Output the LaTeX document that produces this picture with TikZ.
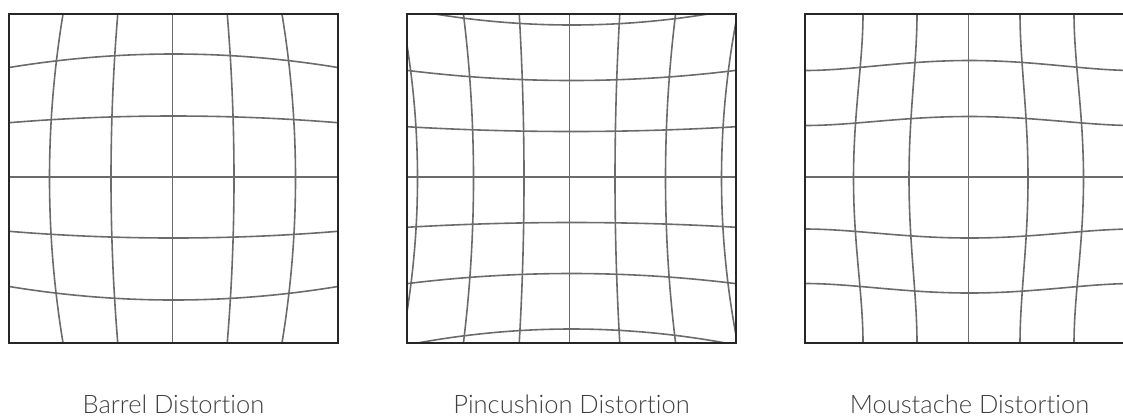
\documentclass[tikz,border=0pt]{standalone}
\usepackage{fontspec}
\newfontfamily\labfont{Lato Light}[Ligatures={NoCommon,NoRare,NoDiscretionary}]
\begin{document}
\begin{tikzpicture}[x=1pt,y=-1pt,
  declare function={sq(\u)=\u*\u; mq(\u)=2*\u*\u-\u*\u*\u*\u;},
  frame/.style={draw=black!85, line width=1.8pt},
  gridline/.style={draw=black!58, line width=1.6pt, line join=round},
  capt/.style={font=\labfont\fontsize{25.5}{30}\selectfont, text=black!75, anchor=base, inner sep=0pt}]
\useasboundingbox (0,0) rectangle (1123,416);
\begin{scope}
\clip (0,0) rectangle (1123,416);
% Barrel
\begin{scope}
\clip (9,14) rectangle (338,343);
\foreach \a in {-123,-61.5,0,61.5,123}
  \draw[gridline] plot[domain=10:342, samples=40, variable=\t, smooth]
    ({172.5+(\a)*(1-0.11*sq((\t-178.5)/164.5))}, {\t});
\foreach \b in {-123,-61,0,61,123}
  \draw[gridline] plot[domain=10:337, samples=40, variable=\t, smooth]
    ({\t}, {177+(\b)*(1-0.11*sq((\t-173.5)/164.5))});
\end{scope}
\draw[frame] (9,14) rectangle (338,343);
% Pincushion
\begin{scope}
\clip (407,14) rectangle (736,343);
\foreach \a in {-152,-96,-45.5,0,45.5,96,152}
  \draw[gridline] plot[domain=10:347, samples=40, variable=\t, smooth]
    ({569.5+(\a)*(1+0.105*sq((\t-178.5)/164.5))}, {\t});
\foreach \b in {-152,-96.5,-45.5,0,45.5,96.5,152}
  \draw[gridline] plot[domain=403:740, samples=40, variable=\t, smooth]
    ({\t}, {177+(\b)*(1+0.105*sq((\t-571.5)/164.5))});
\end{scope}
\draw[frame] (407,14) rectangle (736,343);
% Moustache
\begin{scope}
\clip (805,14) rectangle (1134,343);
\foreach \a/\d in {-115/9.5,-59.5/8,0/0,59.5/8,115/9.5}
  \draw[gridline] plot[domain=10:347, samples=40, variable=\t, smooth]
    ({968.5+(\a)-sign(\a)*\d*mq((\t-178.5)/164.5)}, {\t});
\foreach \b/\d in {-116.5/10,-60.5/9,0/0,61/9,116/9.5}
  \draw[gridline] plot[domain=801:1138, samples=40, variable=\t, smooth]
    ({\t}, {177+(\b)-sign(\b)*\d*mq((\t-969.5)/164.5)});
\end{scope}
\draw[frame] (805,14) rectangle (1134,343);
\end{scope}
\node[capt] (lb) at (173.5,413) {Barrel Distortion};
\node[capt] (lp) at (571.5,413) {Pincushion Distortion};
\node[capt] (lm) at (969.5,413) {Moustache Distortion};
\end{tikzpicture}
\end{document}
